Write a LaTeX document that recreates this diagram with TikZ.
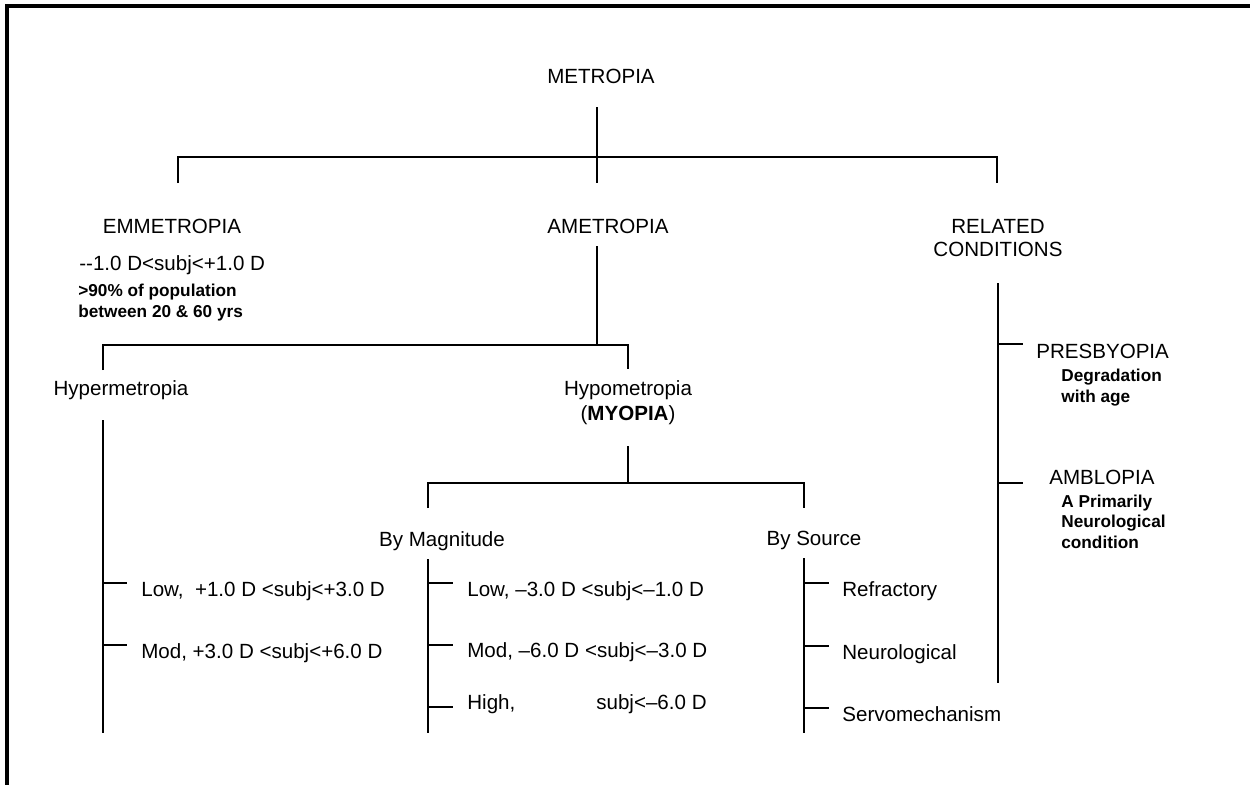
\documentclass[tikz,border=0pt]{standalone}
\usepackage{fontspec}
\setmainfont{Liberation Sans}
\begin{document}
\begin{tikzpicture}[x=0.02cm, y=-0.02cm,
  every node/.style={inner sep=0pt, font=\fontsize{11.7}{13}\selectfont},
  lbl/.style={anchor=base},
  item/.style={anchor=base west},
  note/.style={anchor=base west, align=left, font=\bfseries\fontsize{9.8}{11.4}\selectfont},
  branch/.style={line width=0.9pt},
  edgeframe/.style={line width=2.1pt}]
\useasboundingbox (0,0) rectangle (1250,785);
\draw[edgeframe] (1250,6) -| (7,785);

% top level (multi-line nodes sit on their last baseline)
\node[lbl] (metro) at (601,83) {METROPIA};
\node[lbl] (emme) at (172,233) {EMMETROPIA};
\node[lbl] (ame) at (608,233) {AMETROPIA};
\node[lbl, align=center] (rel) at (998,256) {RELATED\\CONDITIONS};
\coordinate (m0) at (597,107);
\coordinate (m1) at (597,183);
\coordinate (mL) at (178,183);
\coordinate (mB) at (178,157);
\coordinate (mR) at (997,183);
\draw[branch] (m0) -- (m1);
\draw[branch] (mL) -- (mB) -| (mR);

% emmetropia
\node[item] (emrange) at (79,270) {-{}-1.0 D<subj<+1.0 D};
\node[note] (emnote) at (78,317) {>90\% of population\\between 20 \& 60 yrs};

% ametropia
\node[lbl] (hyper) at (121,395) {Hypermetropia};
\node[lbl, align=center, font=\fontsize{11.7}{14.2}\selectfont] (hypo) at (628,420) {Hypometropia\\(\textbf{MYOPIA})};
\coordinate (a0) at (597,246);
\coordinate (aB) at (597,345);
\coordinate (hyTop) at (103,370);
\coordinate (aBL) at (103,345);
\coordinate (hoTop) at (628,369);
\draw[branch] (a0) -- (aB);
\draw[branch] (hyTop) -- (aBL) -| (hoTop);

% hypermetropia
\coordinate (h0) at (103,420);
\coordinate (h1) at (103,733);
\draw[branch] (h0) -- (h1);
\foreach \y [count=\i] in {583,645} {
  \coordinate (ht\i) at (103,\y);
  \draw[branch] (ht\i) -- ++(24,0);
}
\node[item] (hlow) at (141,596) {Low,~ +1.0 D <subj<+3.0 D};
\node[item] (hmod) at (141,658) {Mod, +3.0 D <subj<+6.0 D};

% myopia
\node[lbl] (mag) at (442,546) {By Magnitude};
\node[lbl] (src) at (814,545) {By Source};
\coordinate (o0) at (628,446);
\coordinate (oB) at (628,483);
\coordinate (mgTop) at (428,508);
\coordinate (mgB) at (428,483);
\coordinate (srTop) at (804,508);
\draw[branch] (o0) -- (oB);
\draw[branch] (mgTop) -- (mgB) -| (srTop);

% by magnitude
\coordinate (g0) at (428,559);
\coordinate (g1) at (428,733);
\draw[branch] (g0) -- (g1);
\foreach \y [count=\i] in {583,645,707} {
  \coordinate (gt\i) at (428,\y);
  \draw[branch] (gt\i) -- ++(25,0);
}
\node[item] (mlow) at (467,596) {Low, –3.0 D <subj<–1.0 D};
\node[item] (mmod) at (467,657) {Mod, –6.0 D <subj<–3.0 D};
\node[item] (mhigh) at (467,709) {High,};
\node[item] (mhighv) at (596,709) {subj<–6.0 D};

% by source
\coordinate (s0) at (804,558);
\coordinate (s1) at (804,733);
\draw[branch] (s0) -- (s1);
\foreach \y [count=\i] in {583,646,708} {
  \coordinate (st\i) at (804,\y);
  \draw[branch] (st\i) -- ++(25,0);
}
\node[item] (refr) at (842,596) {Refractory};
\node[item] (neur) at (842,659) {Neurological};
\node[item] (servo) at (842,721) {Servomechanism};

% related conditions
\coordinate (r0) at (998,283);
\coordinate (r1) at (998,683);
\draw[branch] (r0) -- (r1);
\foreach \y [count=\i] in {344,483} {
  \coordinate (rt\i) at (998,\y);
  \draw[branch] (rt\i) -- ++(25,0);
}
\node[item] (pres) at (1036,358) {PRESBYOPIA};
\node[note] (presn) at (1061,402) {Degradation\\with age};
\node[item] (ambl) at (1049,484) {AMBLOPIA};
\node[note] (ambln) at (1061,548) {A Primarily\\Neurological\\condition};

\end{tikzpicture}
\end{document}
